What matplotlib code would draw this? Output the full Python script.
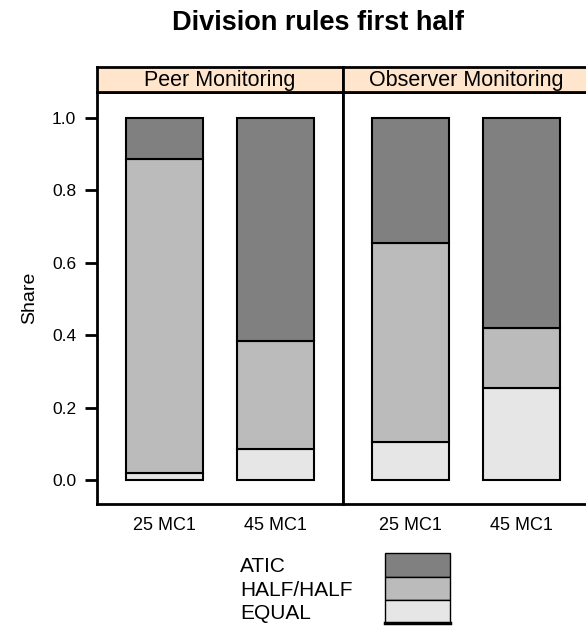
import matplotlib.pyplot as plt
import numpy as np
from matplotlib.patches import Rectangle

plt.rcParams['font.family'] = ['Liberation Sans', 'DejaVu Sans']

panels = ['Peer Monitoring', 'Observer Monitoring']
groups = ['25 MC1', '45 MC1']
rules = ['EQUAL', 'HALF/HALF', 'ATIC']
rule_colors = ['#e6e6e6', '#bbbbbb', '#808080']

# shares per panel, rows follow groups
equal = [[0.019, 0.086], [0.104, 0.254]]
half = [[0.868, 0.298], [0.551, 0.166]]
atic = [[0.113, 0.616], [0.345, 0.580]]

W, H = 586, 627
fig = plt.figure(figsize=(W / 100, H / 100), dpi=100)

def frac(x0, y0, x1, y1):
    # pixel box -> figure fraction
    return [x0 / W, 1 - y1 / H, (x1 - x0) / W, (y1 - y0) / H]

panel_px = [(97, 343), (343, 589)]
top, strip_bot, bottom = 67, 92, 504

for p, (x0, x1) in enumerate(panel_px):
    ax = fig.add_axes(frac(x0, strip_bot, x1, bottom))
    ax.set_xlim(0.4, 2.6)
    ax.set_ylim(-0.066, 1.072)
    xs = np.arange(1, len(groups) + 1)
    base = np.zeros(len(groups))
    for vals, col in zip([equal[p], half[p], atic[p]], rule_colors):
        ax.bar(xs, vals, bottom=base, width=0.69, color=col,
               edgecolor='black', linewidth=1.5)
        base = base + np.array(vals)
    ax.set_xticks(xs)
    ax.set_xticklabels(groups, fontsize=13)
    ax.tick_params(axis='x', length=0, pad=9)
    if p == 0:
        ax.set_yticks([0.0, 0.2, 0.4, 0.6, 0.8, 1.0])
        ax.set_yticklabels(['0.0', '0.2', '0.4', '0.6', '0.8', '1.0'], fontsize=12.5)
        ax.tick_params(axis='y', length=9, width=2, pad=6, direction='out')
        ax.set_ylabel('Share', fontsize=14, labelpad=10)
    else:
        ax.set_yticks([])
    for s in ax.spines.values():
        s.set_linewidth(2)

    sax = fig.add_axes(frac(x0, top, x1, strip_bot))
    sax.set_xticks([])
    sax.set_yticks([])
    sax.set_facecolor('#ffe5cc')
    for s in sax.spines.values():
        s.set_linewidth(2)
    sax.text(0.5, 0.45, panels[p], ha='center', va='center', fontsize=15.5,
             transform=sax.transAxes)

fig.text(318 / W, 1 - 23 / H, 'Division rules first half', ha='center',
         va='center', fontsize=19.5, fontweight='bold')

# legend: labels left, stacked colour keys right
lax = fig.add_axes([0, 0, 1, 1])
lax.set_xlim(0, W)
lax.set_ylim(H, 0)
lax.axis('off')
key_rows = [(553, 577), (577, 600), (600, 623)]
for (y0, y1), name, col in zip(key_rows, rules[::-1], rule_colors[::-1]):
    lax.text(240, (y0 + y1) / 2 + 2, name, ha='left', va='center', fontsize=15)
    lax.add_patch(Rectangle((385, y0), 65, y1 - y0, facecolor=col,
                            edgecolor='black', linewidth=1))
lax.plot([385, 450], [623, 623], color='black', linewidth=2.5)

fig.savefig('out.png', dpi=100)
